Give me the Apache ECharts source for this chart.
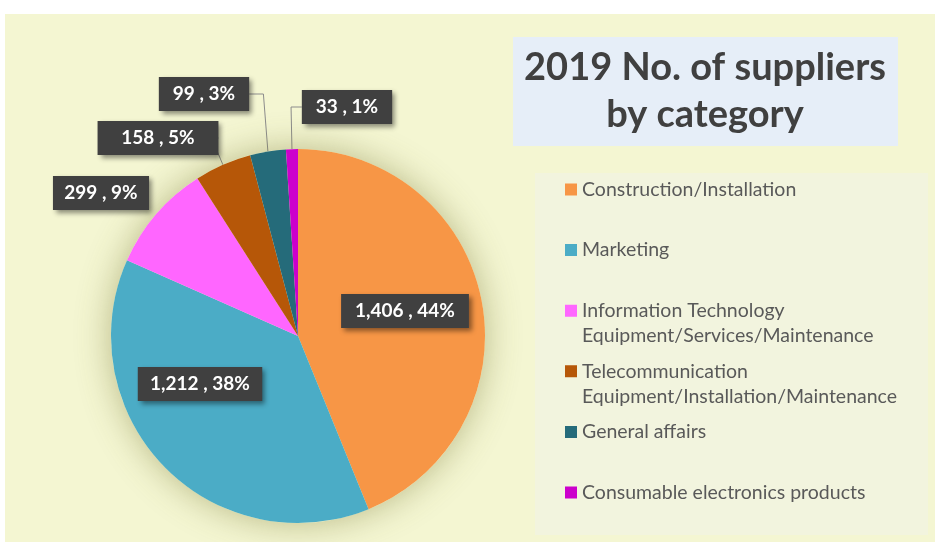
<!DOCTYPE html>
<html>
<head>
<meta charset="utf-8">
<script src="https://cdn.jsdelivr.net/npm/echarts@6/dist/echarts.min.js"></script>
<style>
  html, body { margin: 0; padding: 0; background: #fff; }
  #chart { width: 935px; height: 542px; }
</style>
</head>
<body>
<div id="chart"></div>
<script>
// values
const categories = [
  "Construction/Installation",
  "Marketing",
  "Information Technology Equipment/Services/Maintenance",
  "Telecommunication Equipment/Installation/Maintenance",
  "General affairs",
  "Consumable electronics products",
];
const supplierCounts = [1406, 1212, 299, 158, 99, 33];
const sliceColors = ["#F79646", "#4BACC6", "#FF66FF", "#B65708", "#256B7A", "#CC00CC"];
const chartTitle = "2019 No. of suppliers\nby category";

// layout bits (px)
const pieCenter = [298, 336];
const pieRadius = 187;
// centre of each value box, and whether it gets a leader line
const labelSpots = [[405, 311], [200, 384], [101, 193], [158, 138], [204, 94], [347, 107]];
const withLeader = [false, false, false, true, true, true];

let chart = echarts.init(document.getElementById("chart"));

let pieData = categories.map((name, i) => ({
  name: name,
  value: supplierCounts[i],
  itemStyle: { color: sliceColors[i] },
  labelLine: { show: withLeader[i] },
}));

function legendText(name) {
  // two lines per entry, like the original legend
  if (name.indexOf(" Equipment") > 0) return name.replace(" Equipment", "\nEquipment");
  return name + "\n ";
}

let option = {
  backgroundColor: "#fff",
  animation: false,
  graphic: [
    {
      type: "rect",
      left: 5,
      top: 14,
      shape: { width: 930, height: 528 },
      style: { fill: "#F4F6D2" },
      z: -10,
    },
    {
      type: "rect",
      left: 535,
      top: 173,
      shape: { width: 393, height: 362 },
      style: { fill: "#F2F4DE" },
      z: -9,
    },
    {
      type: "rect",
      left: 513,
      top: 37,
      shape: { width: 385, height: 109 },
      style: { fill: "#E6EEF8" },
      z: -9,
    },
  ],
  title: {
    text: chartTitle,
    left: 705,
    top: 44,
    textAlign: "center",
    padding: 0,
    textStyle: {
      fontFamily: "Lato",
      fontSize: 38,
      fontWeight: "bold",
      color: "#404040",
      lineHeight: 47,
    },
  },
  legend: {
    orient: "vertical",
    left: 560,
    top: 172,
    itemWidth: 12,
    itemHeight: 50,
    itemGap: 10.6,
    icon: "path://M0,0L12,0M0,6.5L12,6.5L12,18.5L0,18.5ZM0,50L12,50",
    selectedMode: false,
    data: categories,
    formatter: legendText,
    textStyle: {
      fontFamily: "Lato",
      fontSize: 19.5,
      color: "#595959",
      lineHeight: 25,
    },
  },
  series: [
    {
      // soft halo under the pie
      type: "pie",
      silent: true,
      center: pieCenter,
      radius: pieRadius,
      data: [{ value: 1, name: "halo" }],
      label: { show: false },
      labelLine: { show: false },
      itemStyle: {
        color: "#F4F6D2",
        shadowBlur: 35,
        shadowColor: "rgba(110, 110, 40, 0.45)",
      },
      emphasis: { disabled: true },
    },
    {
      type: "pie",
      center: pieCenter,
      radius: pieRadius,
      startAngle: 90,
      clockwise: true,
      data: pieData,
      emphasis: { disabled: true },
      itemStyle: { borderWidth: 0 },
      label: {
        show: true,
        position: "outside",
        overflow: "none",
        formatter: (p) => p.value.toLocaleString("en-US") + " , " + Math.round(p.percent) + "%",
        fontFamily: "Lato",
        fontSize: 19,
        fontWeight: "bold",
        color: "#fff",
        backgroundColor: "#404040",
        padding: [8, 14, 7, 14],
        shadowColor: "rgba(0, 0, 0, 0.45)",
        shadowBlur: 5,
        shadowOffsetX: 3,
        shadowOffsetY: 3,
      },
      labelLine: {
        show: true,
        length: 20,
        length2: 10,
        lineStyle: { color: "#8c8c8c", width: 1 },
      },
      labelLayout: function (params) {
        let i = params.dataIndex;
        let spot = labelSpots[i];
        let res = { x: spot[0], y: spot[1], align: "center", verticalAlign: "middle" };
        let pts = params.labelLinePoints;
        if (withLeader[i] && pts) {
          let a = pts[0];
          let w = params.labelRect.width;
          let endX = spot[0] < a[0] ? spot[0] + w / 2 : spot[0] - w / 2;
          let midX = a[0] + (a[0] - pieCenter[0]) * 0.15;
          res.labelLinePoints = [a, [midX, spot[1]], [endX, spot[1]]];
        }
        return res;
      },
    },
  ],
};

chart.setOption(option);
</script>
</body>
</html>
